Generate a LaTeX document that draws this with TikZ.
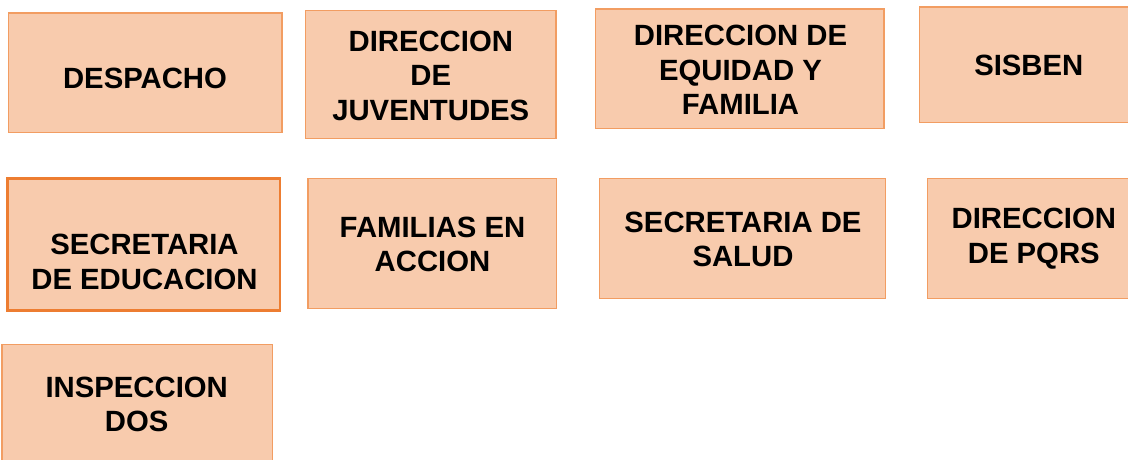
\documentclass[tikz,border=0pt]{standalone}
\usepackage{fontspec}
\setmainfont{Liberation Sans}
\definecolor{boxfill}{HTML}{F8CBAD}
\definecolor{boxline}{HTML}{F29D62}
\definecolor{boxlinedark}{HTML}{ED7D31}
\begin{document}
\begin{tikzpicture}[x=1pt,y=-1pt,
  orgbox/.style={draw=boxline, fill=boxfill, line width=1.5pt, rectangle, inner sep=0pt},
  lbl/.style={font=\bfseries\fontsize{29.3}{34.6}\selectfont, align=center, inner sep=0pt, text=black}]
\useasboundingbox (0,0) rectangle (1128,459);
\clip (0,0) rectangle (1128,459);
% row 1
\node[orgbox, minimum width=273.5pt, minimum height=119.5pt] (despacho) at (145.25,72.75) {};
\node[lbl] (despacho-t) at (145,78.5) {DESPACHO};
\node[orgbox, minimum width=250.5pt, minimum height=128pt] (juventudes) at (430.75,74.5) {};
\node[lbl] (juventudes-t) at (430.8,75.8) {DIRECCION\\DE\\JUVENTUDES};
\node[orgbox, minimum width=288.5pt, minimum height=119.7pt] (equidad) at (739.75,68.65) {};
\node[lbl] (equidad-t) at (740.5,70) {DIRECCION DE\\EQUIDAD Y\\FAMILIA};
\node[orgbox, minimum width=219.5pt, minimum height=115.3pt] (sisben) at (1029.25,64.65) {};
\node[lbl] (sisben-t) at (1028.8,65.5) {SISBEN};
% row 2
\node[orgbox, draw=boxlinedark, line width=2.5pt, minimum width=272.5pt, minimum height=132pt] (educacion) at (143.75,244.5) {};
\node[lbl] (educacion-t) at (144.5,262) {SECRETARIA\\DE EDUCACION};
\node[orgbox, minimum width=248.3pt, minimum height=130.2pt] (familias) at (432.15,243.6) {};
\node[lbl] (familias-t) at (432.5,244.5) {FAMILIAS EN\\ACCION};
\node[orgbox, minimum width=286pt, minimum height=120.2pt] (salud) at (742.7,238.6) {};
\node[lbl] (salud-t) at (743,239.5) {SECRETARIA DE\\SALUD};
\node[orgbox, minimum width=212.3pt, minimum height=120.2pt] (pqrs) at (1033.85,238.6) {};
\node[lbl] (pqrs-t) at (1033.8,238.8) {DIRECCION\\DE PQRS};
% row 3
\node[orgbox, minimum width=270.3pt, minimum height=120.3pt] (inspeccion) at (137.15,404.85) {};
\node[lbl] (inspeccion-t) at (136.7,404.5) {INSPECCION\\DOS};
\end{tikzpicture}
\end{document}
